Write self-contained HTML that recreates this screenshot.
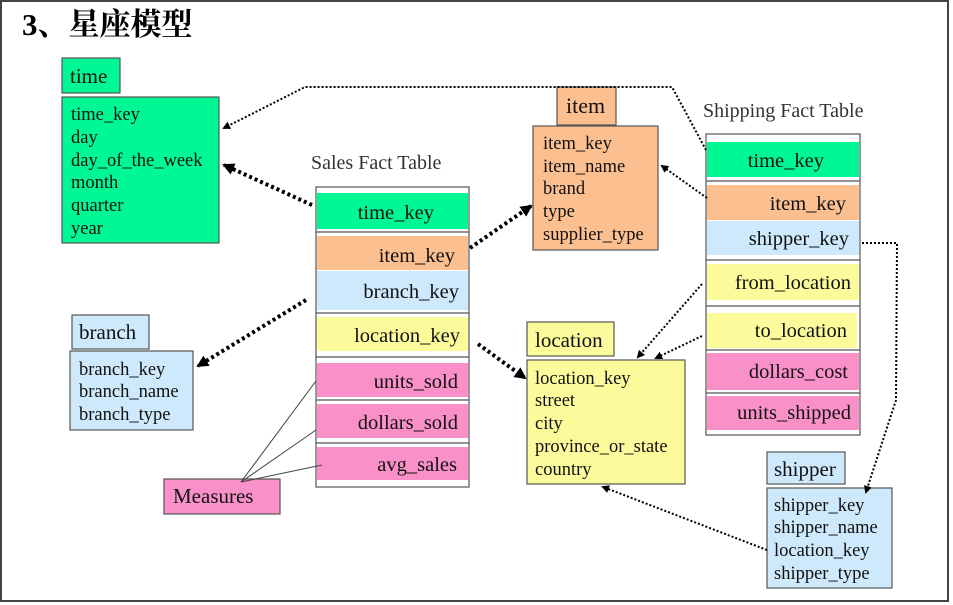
<!DOCTYPE html>
<html><head><meta charset="utf-8"><style>
body{margin:0;background:#fff;}
svg{display:block;font-family:"Liberation Serif","Noto Serif CJK SC",serif;}
</style></head><body>
<svg width="953" height="605" viewBox="0 0 953 605" xmlns="http://www.w3.org/2000/svg">
<defs>
<marker id="a" markerWidth="8" markerHeight="8" refX="6" refY="4" orient="auto" markerUnits="userSpaceOnUse"><path d="M0,0 L8,4 L0,8 z" fill="#000"/></marker>
<marker id="b" markerWidth="12" markerHeight="12" refX="10" refY="6" orient="auto" markerUnits="userSpaceOnUse"><path d="M0,0 L12,6 L0,12 z" fill="#000"/></marker>
</defs>
<rect x="0" y="0" width="953" height="605" fill="#fff"/>
<rect x="1" y="1" width="947" height="600" fill="none" stroke="#444" stroke-width="2"/>
<text x="22" y="35" font-size="31" font-weight="bold">3、星座模型</text>

<g stroke="#555" stroke-width="1.2">
<rect x="62" y="58" width="58" height="35" fill="#00f894"/>
<rect x="62" y="97" width="157" height="146" fill="#00f894"/>
<rect x="72" y="315" width="77" height="34" fill="#cde9fb"/>
<rect x="70" y="351" width="123" height="79" fill="#cde9fb"/>
<rect x="164" y="479" width="116" height="35" fill="#f990c8"/>
<rect x="557" y="87" width="59" height="38" fill="#fcc090"/>
<rect x="533" y="126" width="125" height="124" fill="#fcc090"/>
<rect x="527" y="322" width="87" height="34" fill="#fcfb9c"/>
<rect x="527" y="360" width="158" height="124" fill="#fcfb9c"/>
<rect x="767" y="452" width="78" height="32" fill="#cde9fb"/>
<rect x="767" y="488" width="125" height="100" fill="#cde9fb"/>
<rect x="316" y="187" width="153" height="300" fill="#fff"/>
<rect x="706" y="134" width="154" height="301" fill="#fff"/>
</g>
<g stroke="none">
<rect x="317" y="193" width="151" height="36" fill="#00f894"/>
<rect x="317" y="236" width="151" height="34" fill="#fcc090"/>
<rect x="317" y="271" width="151" height="39" fill="#cde9fb"/>
<rect x="317" y="317" width="151" height="34" fill="#fcfb9c"/>
<rect x="317" y="363" width="151" height="34" fill="#f990c8"/>
<rect x="317" y="404" width="151" height="34" fill="#f990c8"/>
<rect x="317" y="447" width="151" height="33" fill="#f990c8"/>
<rect x="707" y="142" width="152" height="35" fill="#00f894"/>
<rect x="707" y="185" width="152" height="35" fill="#fcc090"/>
<rect x="707" y="221" width="152" height="34" fill="#cde9fb"/>
<rect x="707" y="264" width="152" height="36" fill="#fcfb9c"/>
<rect x="707" y="313" width="150" height="35" fill="#fcfb9c"/>
<rect x="707" y="353" width="152" height="37" fill="#f990c8"/>
<rect x="707" y="396" width="152" height="34" fill="#f990c8"/>
</g>
<g stroke="#555" stroke-width="1.2">
<line x1="316" y1="232" x2="469" y2="232"/>
<line x1="316" y1="313" x2="469" y2="313"/>
<line x1="316" y1="357" x2="469" y2="357"/>
<line x1="316" y1="400" x2="469" y2="400"/>
<line x1="316" y1="443" x2="469" y2="443"/>
<line x1="706" y1="181" x2="860" y2="181"/>
<line x1="706" y1="260" x2="860" y2="260"/>
<line x1="706" y1="306" x2="860" y2="306"/>
<line x1="706" y1="350" x2="860" y2="350"/>
<line x1="706" y1="393" x2="860" y2="393"/>
</g>

<g font-size="18.5" fill="#111">
<text x="70" y="83" font-size="21">time</text>
<text x="71" y="120">time_key</text><text x="71" y="143">day</text><text x="71" y="166">day_of_the_week</text><text x="71" y="188">month</text><text x="71" y="211">quarter</text><text x="71" y="234">year</text>
<text x="311" y="169" font-size="20" fill="#333">Sales Fact Table</text>
<text x="434" y="219" text-anchor="end" font-size="20.5">time_key</text>
<text x="455" y="262" text-anchor="end" font-size="20.5">item_key</text>
<text x="459" y="298" text-anchor="end" font-size="20.5">branch_key</text>
<text x="460" y="342" text-anchor="end" font-size="20.5">location_key</text>
<text x="458" y="388" text-anchor="end" font-size="20.5">units_sold</text>
<text x="458" y="429" text-anchor="end" font-size="20.5">dollars_sold</text>
<text x="457" y="471" text-anchor="end" font-size="20.5">avg_sales</text>
<text x="79" y="339" font-size="21">branch</text>
<text x="79" y="375">branch_key</text><text x="79" y="397">branch_name</text><text x="79" y="420">branch_type</text>
<text x="173" y="503" font-size="21">Measures</text>
<text x="566" y="113" font-size="22">item</text>
<text x="543" y="149">item_key</text><text x="543" y="172">item_name</text><text x="543" y="194">brand</text><text x="543" y="217">type</text><text x="543" y="240">supplier_type</text>
<text x="535" y="347" font-size="21">location</text>
<text x="535" y="384">location_key</text><text x="535" y="406">street</text><text x="535" y="429">city</text><text x="535" y="452">province_or_state</text><text x="535" y="475">country</text>
<text x="703" y="117" font-size="20" fill="#333">Shipping Fact Table</text>
<text x="824" y="167" text-anchor="end" font-size="20.5">time_key</text>
<text x="846" y="210" text-anchor="end" font-size="20.5">item_key</text>
<text x="849" y="245" text-anchor="end" font-size="20.5">shipper_key</text>
<text x="851" y="289" text-anchor="end" font-size="20.5">from_location</text>
<text x="847" y="337" text-anchor="end" font-size="20.5">to_location</text>
<text x="848" y="378" text-anchor="end" font-size="20.5">dollars_cost</text>
<text x="851" y="419" text-anchor="end" font-size="20.5">units_shipped</text>
<text x="774" y="476" font-size="21">shipper</text>
<text x="774" y="511">shipper_key</text><text x="774" y="533">shipper_name</text><text x="774" y="556">location_key</text><text x="774" y="579">shipper_type</text>
</g>

<g fill="none" stroke="#000">
<path d="M312,205 L224,165" stroke-width="4" stroke-dasharray="3,3" marker-end="url(#b)"/>
<path d="M706,150 L672,87 L305,87 L224,128" stroke-width="2" stroke-dasharray="2,2" marker-end="url(#a)"/>
<path d="M470,248 L531,206" stroke-width="4" stroke-dasharray="3,3" marker-end="url(#b)"/>
<path d="M707,198 L662,166" stroke-width="2" stroke-dasharray="2,2" marker-end="url(#a)"/>
<path d="M306,300 L198,366" stroke-width="4" stroke-dasharray="3,3" marker-end="url(#b)"/>
<path d="M478,344 L525,378" stroke-width="4" stroke-dasharray="3,3" marker-end="url(#b)"/>
<path d="M702,284 L638,357" stroke-width="2" stroke-dasharray="2,2" marker-end="url(#a)"/>
<path d="M702,336 L656,358" stroke-width="2" stroke-dasharray="2,2" marker-end="url(#a)"/>
<path d="M862,243 L897,243 L896,400 L866,492" stroke-width="2" stroke-dasharray="2,2" marker-end="url(#a)"/>
<path d="M767,550 L603,487" stroke-width="2" stroke-dasharray="2,2" marker-end="url(#a)"/>
</g>
<g stroke="#444" stroke-width="1">
<line x1="241" y1="482" x2="316" y2="381"/>
<line x1="241" y1="482" x2="316" y2="430"/>
<line x1="241" y1="482" x2="322" y2="465"/>
</g>
</svg>
</body></html>
